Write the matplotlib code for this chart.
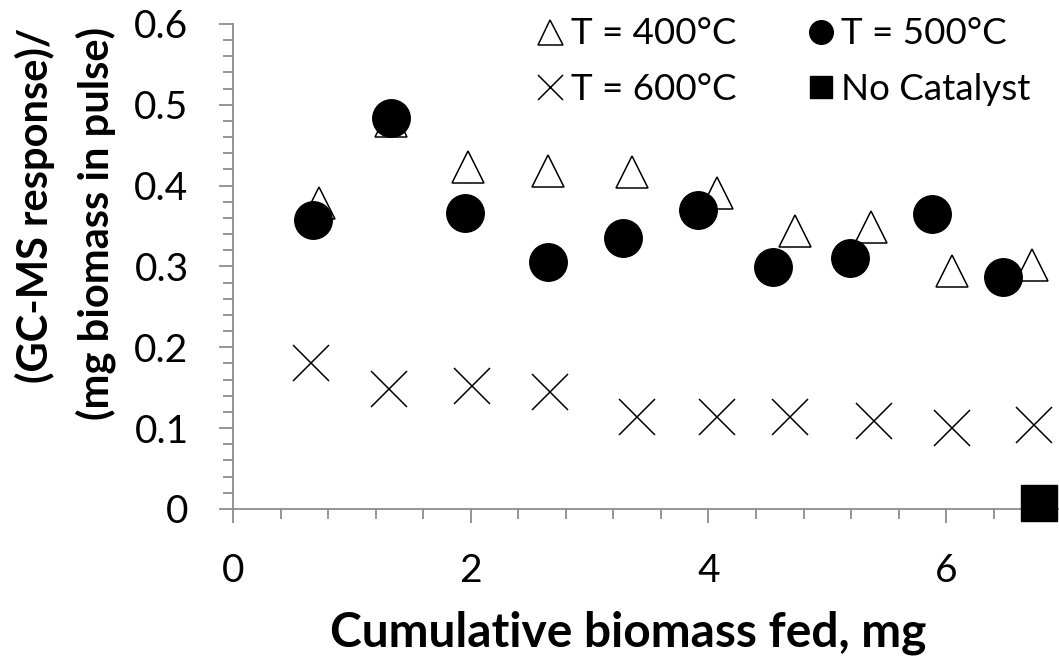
import numpy as np
import matplotlib.pyplot as plt
from matplotlib.lines import Line2D
from matplotlib.ticker import MultipleLocator

plt.rcParams['font.family'] = ['Lato', 'DejaVu Sans']

# T = 400 C (open triangles)
x_400 = [0.72, 1.33, 1.98, 2.65, 3.36, 4.07, 4.73, 5.37, 6.05, 6.72]
y_400 = [0.379, 0.480, 0.423, 0.418, 0.417, 0.391, 0.344, 0.349, 0.295, 0.302]

# T = 500 C (filled circles)
x_500 = [0.67, 1.33, 1.95, 2.65, 3.28, 3.91, 4.54, 5.19, 5.88, 6.48]
y_500 = [0.358, 0.484, 0.366, 0.306, 0.335, 0.370, 0.299, 0.311, 0.365, 0.287]

# T = 600 C (crosses)
x_600 = [0.66, 1.31, 2.01, 2.67, 3.40, 4.07, 4.69, 5.39, 6.05, 6.74]
y_600 = [0.181, 0.149, 0.152, 0.145, 0.114, 0.114, 0.114, 0.109, 0.100, 0.104]

# no catalyst
x_nocat = [6.78]
y_nocat = [0.008]

labels = ['T = 400°C', 'T = 500°C', 'T = 600°C', 'No Catalyst']

fig = plt.figure(figsize=(10.59, 6.57), dpi=100)
ax = fig.add_axes([0.220, 0.2253, 0.7857, 0.7382])

ax.plot(x_400, y_400, ls='none', marker='^', ms=23, mfc='white', mec='black', mew=1.1, clip_on=False, zorder=3)
ax.plot(x_500, y_500, ls='none', marker='o', ms=27, mfc='black', mec='black', mew=1, clip_on=False, zorder=4)
ax.plot(x_600, y_600, ls='none', marker='x', ms=26, mec='black', mew=1.1, clip_on=False, zorder=3)
ax.plot(x_nocat, y_nocat, ls='none', marker='s', ms=26, mfc='black', mec='black', mew=1, clip_on=False, zorder=5)

ax.set_xlim(0, 7)
ax.set_ylim(0, 0.6)
ax.xaxis.set_major_locator(MultipleLocator(2))
ax.xaxis.set_minor_locator(MultipleLocator(0.4))
ax.yaxis.set_major_locator(MultipleLocator(0.1))
ax.yaxis.set_minor_locator(MultipleLocator(0.02))
ax.yaxis.set_major_formatter(plt.FuncFormatter(lambda v, p: '0' if abs(v) < 1e-9 else '%.1f' % v))

gray = '#8c8c8c'
for s in ['top', 'right']:
    ax.spines[s].set_visible(False)
for s in ['left', 'bottom']:
    ax.spines[s].set_color(gray)
    ax.spines[s].set_linewidth(1.3)
ax.tick_params(which='major', length=10, width=1.3, color=gray, labelsize=28, pad=22)
ax.tick_params(which='minor', length=7, width=1.3, color=gray)

# axis titles placed by hand, like the original
fig.text(628 / 1059, 1 - 633 / 657, 'Cumulative biomass fed, mg', fontsize=34.5,
         fontweight='bold', ha='center', va='center')
fig.text(35 / 1059, 1 - 205 / 657, '(GC-MS response)/', rotation=90, fontsize=30,
         fontweight='bold', ha='center', va='center')
fig.text(96 / 1059, 1 - 224 / 657, '(mg biomass in pulse)', rotation=90, fontsize=30,
         fontweight='bold', ha='center', va='center')

# legend proxies (legend markers are smaller than plot markers)
handles = [
    Line2D([], [], ls='none', marker='^', ms=18, mfc='white', mec='black', mew=1.1),
    Line2D([], [], ls='none', marker='x', ms=18, mec='black', mew=1.1),
    Line2D([], [], ls='none', marker='o', ms=17, mfc='black', mec='black'),
    Line2D([], [], ls='none', marker='s', ms=16, mfc='black', mec='black'),
]
fig.legend(handles, [labels[0], labels[2], labels[1], labels[3]], ncol=2,
           frameon=False, fontsize=26.5, handlelength=0.6, handletextpad=0.25,
           columnspacing=2.0, labelspacing=0.62, borderpad=0,
           loc='upper left', bbox_to_anchor=(521 / 1059, 1 + 1 / 657))

fig.savefig('out.png', dpi=100)
